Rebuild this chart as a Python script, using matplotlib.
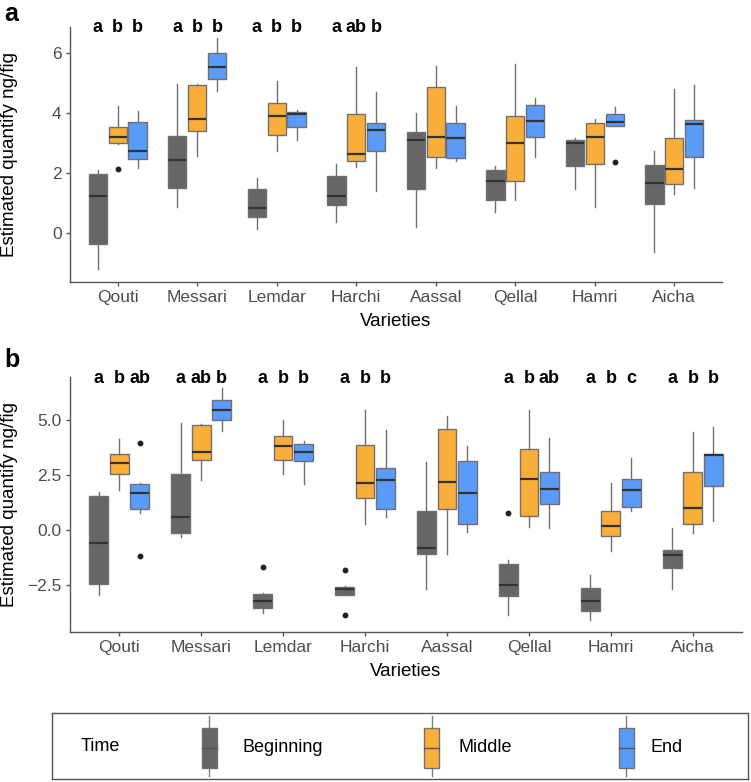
import matplotlib.pyplot as plt
from matplotlib.patches import Rectangle

plt.rcParams['font.family'] = ['Liberation Sans', 'DejaVu Sans']

varieties = ['Qouti', 'Messari', 'Lemdar', 'Harchi', 'Aassal', 'Qellal', 'Hamri', 'Aicha']
times = ['Beginning', 'Middle', 'End']
colors = ['#666666', '#F9AE3A', '#5A9BFA']

# five numbers per box: (lower whisker, Q1, median, Q3, upper whisker)
a_beginning = [(-1.20, -0.37, 1.23, 1.97, 2.11), (0.88, 1.52, 2.44, 3.26, 4.97),
               (0.16, 0.56, 0.83, 1.47, 1.83), (0.39, 0.96, 1.23, 1.90, 2.31),
               (0.22, 1.49, 3.11, 3.37, 4.00), (0.72, 1.12, 1.74, 2.11, 2.24),
               (1.49, 2.26, 3.00, 3.10, 3.17), (-0.63, 0.99, 1.67, 2.29, 2.74)]
a_middle = [(2.97, 3.00, 3.21, 3.56, 4.24), (2.58, 3.41, 3.80, 4.94, 4.97),
            (2.74, 3.29, 3.90, 4.34, 5.08), (2.22, 2.41, 2.64, 3.99, 5.56),
            (2.19, 2.56, 3.20, 4.88, 5.59), (1.11, 1.74, 3.02, 3.90, 5.64),
            (0.87, 2.32, 3.22, 3.67, 3.80), (1.31, 1.66, 2.16, 3.17, 4.80)]
a_end = [(2.19, 2.47, 2.76, 3.72, 4.08), (4.74, 5.13, 5.54, 6.00, 6.50),
         (3.11, 3.56, 3.97, 4.06, 4.11), (1.41, 2.73, 3.43, 3.69, 4.72),
         (2.40, 2.51, 3.19, 3.68, 4.24), (2.56, 3.21, 3.73, 4.29, 4.50),
         (3.59, 3.59, 3.71, 3.97, 4.20), (1.50, 2.56, 3.63, 3.77, 4.94)]
a_fliers = {('Middle', 'Qouti'): [2.16], ('End', 'Hamri'): [2.38]}
a_letters = [['a', 'b', 'b'], ['a', 'b', 'b'], ['a', 'b', 'b'], ['a', 'ab', 'b'],
             ['', '', ''], ['', '', ''], ['', '', ''], ['', '', '']]

b_beginning = [(-2.96, -2.48, -0.59, 1.54, 1.75), (-0.30, -0.15, 0.58, 2.55, 4.88),
               (-3.77, -3.54, -3.25, -2.91, -2.87), (-2.94, -2.94, -2.71, -2.58, -2.56),
               (-2.71, -1.08, -0.81, 0.88, 3.09), (-3.86, -2.99, -2.52, -1.55, -1.37),
               (-4.12, -3.67, -3.23, -2.65, -2.06), (-2.68, -1.71, -1.13, -0.91, 0.08)]
b_middle = [(1.83, 2.56, 3.05, 3.46, 4.16), (2.29, 3.19, 3.58, 4.80, 4.84),
            (2.55, 3.20, 3.84, 4.31, 5.03), (0.27, 1.45, 2.16, 3.86, 5.49),
            (-1.10, 0.95, 2.18, 4.62, 5.18), (0.12, 0.66, 2.33, 3.70, 5.46),
            (-0.95, -0.26, 0.18, 0.85, 2.13), (-0.15, 0.26, 1.01, 2.64, 4.45)]
b_end = [(0.79, 0.95, 1.71, 2.09, 2.13), (4.50, 5.00, 5.49, 5.95, 6.46),
         (2.09, 3.17, 3.58, 3.92, 4.04), (0.58, 0.95, 2.26, 2.85, 4.54),
         (-0.11, 0.26, 1.71, 3.14, 3.84), (0.08, 1.20, 1.89, 2.67, 4.22),
         (0.87, 1.04, 1.84, 2.33, 3.28), (0.41, 2.00, 3.41, 3.46, 4.68)]
b_fliers = {('End', 'Qouti'): [3.99, -1.19], ('Beginning', 'Lemdar'): [-1.68],
            ('Beginning', 'Harchi'): [-1.80, -3.86], ('Beginning', 'Qellal'): [0.76]}
b_letters = [['a', 'b', 'ab'], ['a', 'ab', 'b'], ['a', 'b', 'b'], ['a', 'b', 'b'],
             ['', '', ''], ['a', 'b', 'ab'], ['a', 'b', 'c'], ['a', 'b', 'b']]

W, H = 751, 782
fig = plt.figure(figsize=(W / 100, H / 100), dpi=100)


def px_axes(l, t, r, b):
    return fig.add_axes([l / W, 1 - b / H, (r - l) / W, (b - t) / H])


def panel(ax, series, fliers, letters, ylim, yticks, yticklabels):
    offsets = [-0.25, 0, 0.25]
    for k, (t, data) in enumerate(zip(times, series)):
        stats = []
        for v, row in zip(varieties, data):
            lo, q1, med, q3, hi = row
            stats.append(dict(whislo=lo, q1=q1, med=med, q3=q3, whishi=hi,
                              fliers=fliers.get((t, v), [])))
        pos = [i + 1 + offsets[k] for i in range(len(varieties))]
        ax.bxp(stats, positions=pos, widths=0.23, patch_artist=True,
               showcaps=False, manage_ticks=False,
               boxprops=dict(facecolor=colors[k], edgecolor='#707070', linewidth=1),
               whiskerprops=dict(color='#707070', linewidth=1),
               medianprops=dict(color='#333333', linewidth=1.6),
               flierprops=dict(marker='o', markersize=3.2, markerfacecolor='#222222',
                               markeredgecolor='#222222'))
    for i, labs in enumerate(letters):
        for k, s in enumerate(labs):
            if s:
                ax.text(i + 1 + offsets[k], 6.7, s, ha='center', va='baseline',
                        fontsize=13, fontweight='bold', clip_on=False)
    ax.set_xlim(0.4, 8.6)
    ax.set_ylim(*ylim)
    ax.set_xticks(range(1, 9))
    ax.set_xticklabels(varieties)
    ax.set_yticks(yticks)
    ax.set_yticklabels(yticklabels)
    for s in ['top', 'right']:
        ax.spines[s].set_visible(False)
    for s in ['left', 'bottom']:
        ax.spines[s].set_color('#555555')
        ax.spines[s].set_linewidth(1)
    ax.tick_params(colors='#555555', labelcolor='#4D4D4D', labelsize=12.5,
                   length=3, width=1, pad=3)
    ax.set_xlabel('Varieties', fontsize=13.5)
    ax.set_ylabel('Estimated quantify ng/fig', fontsize=13.5)
    return ax


ax1 = px_axes(70, 27, 722, 282)
panel(ax1, [a_beginning, a_middle, a_end], a_fliers, a_letters,
      (-1.62, 6.88), [0, 2, 4, 6], ['0', '2', '4', '6'])
ax1.xaxis.set_label_coords(0.5, (282 - 313) / 255)
ax1.yaxis.set_label_coords((18 - 70) / 652, 0.5)

ax2 = px_axes(70, 377, 742, 632)
panel(ax2, [b_beginning, b_middle, b_end], b_fliers, b_letters,
      (-4.65, 6.98), [-2.5, 0, 2.5, 5], ['\u22122.5', '0.0', '2.5', '5.0'])
ax2.xaxis.set_label_coords(0.5, (632 - 663) / 255)
ax2.yaxis.set_label_coords((18 - 70) / 672, 0.5)

fig.text(4 / W, 1 - 2 / H, 'a', fontsize=18, fontweight='bold', va='top', ha='left')
fig.text(4 / W, 1 - 348 / H, 'b', fontsize=18, fontweight='bold', va='top', ha='left')

# legend
lg = px_axes(52, 713, 748, 779)
lg.set_xlim(52, 748)
lg.set_ylim(779, 713)
lg.set_xticks([])
lg.set_yticks([])
for s in lg.spines.values():
    s.set_color('#555555')
    s.set_linewidth(1)
lg.text(81, 746, 'Time', fontsize=13, va='center', ha='left')
key_x = [209, 431.5, 626]
text_x = [243, 459, 651]
for k, t in enumerate(times):
    cx = key_x[k]
    lg.plot([cx, cx], [716, 776], color='#808080', lw=1)
    lg.add_patch(Rectangle((cx - 7.5, 728), 15, 40, facecolor=colors[k],
                           edgecolor='#707070', lw=1, zorder=3))
    lg.plot([cx - 7.5, cx + 7.5], [748, 748], color='#555555', lw=1, zorder=4)
    lg.text(text_x[k], 747, t, fontsize=13, va='center', ha='left')

fig.savefig('out.png', dpi=100)
